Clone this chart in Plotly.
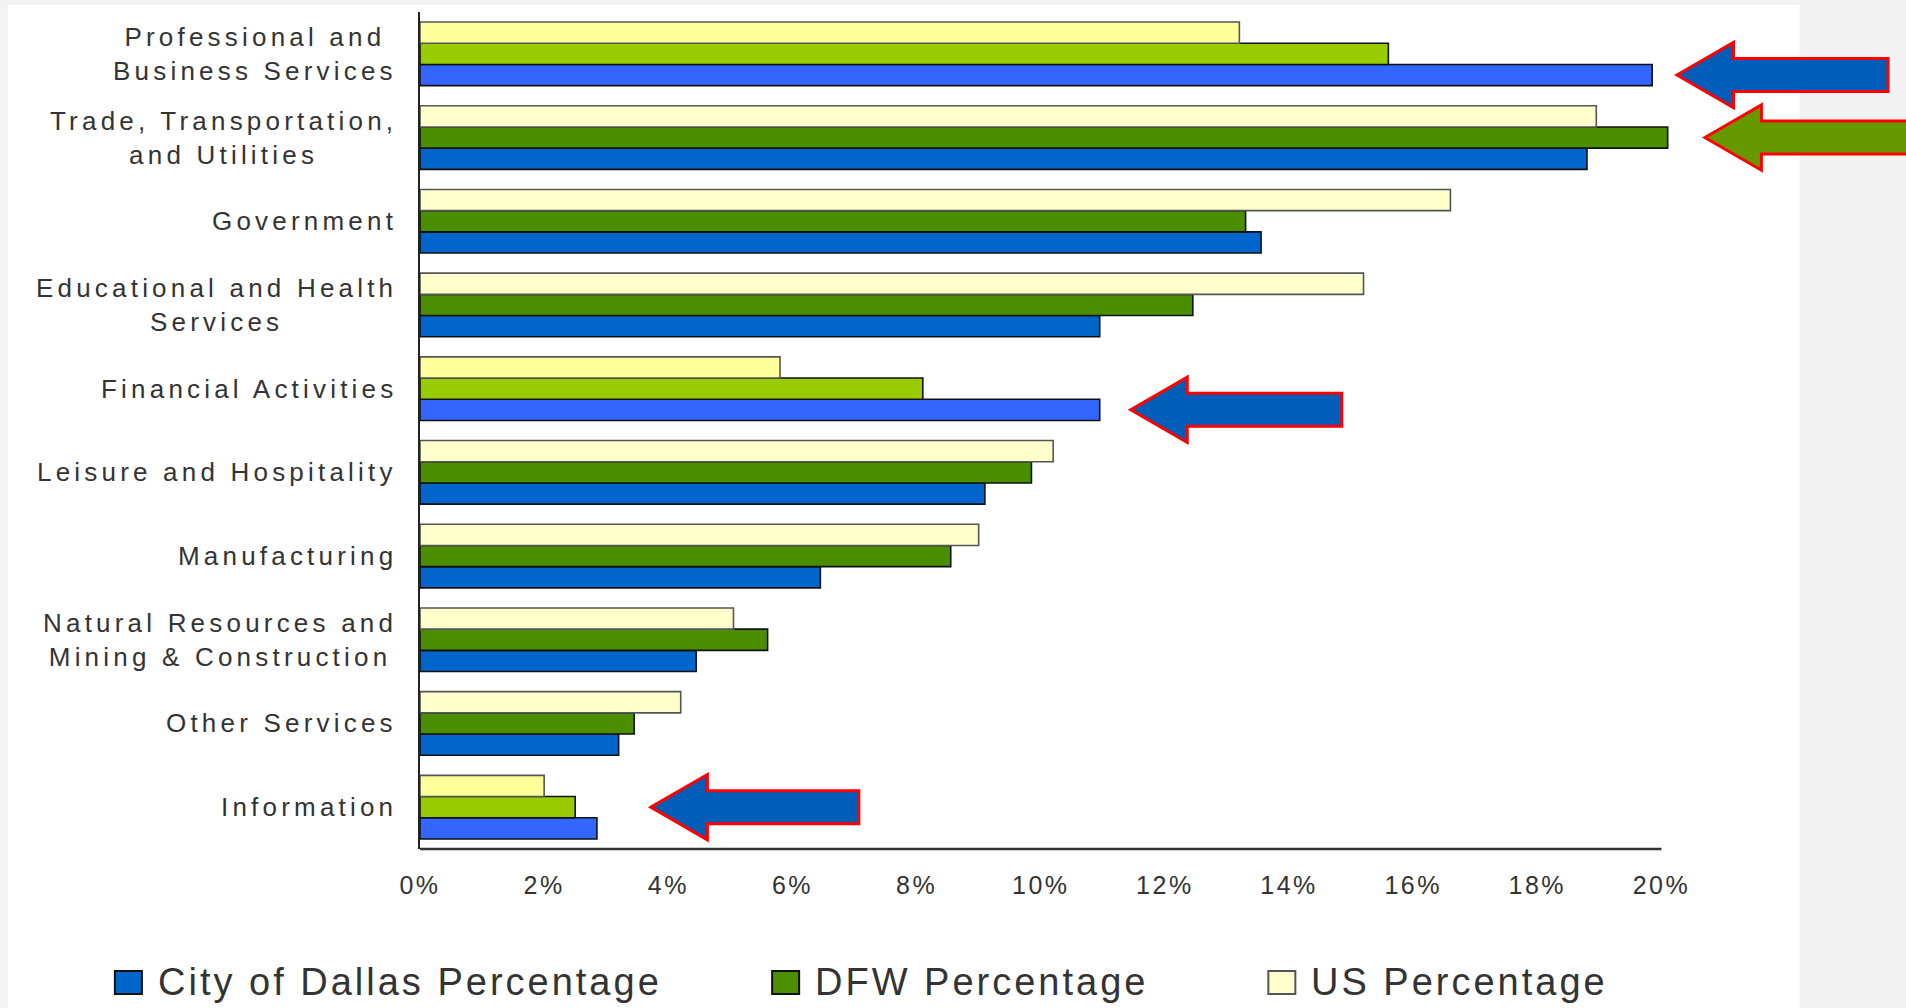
import plotly.graph_objects as go

# ---- data ----
categories = [
    "Professional and<br>Business Services",
    "Trade, Transportation,<br>and Utilities",
    "Government",
    "Educational and Health<br>Services",
    "Financial Activities",
    "Leisure and Hospitality",
    "Manufacturing",
    "Natural Resources and<br>Mining & Construction",
    "Other Services",
    "Information",
]
dallas_pct = [19.85, 18.8, 13.55, 10.95, 10.95, 9.1, 6.45, 4.45, 3.2, 2.85]
dfw_pct = [15.6, 20.1, 13.3, 12.45, 8.1, 9.85, 8.55, 5.6, 3.45, 2.5]
us_pct = [13.2, 18.95, 16.6, 15.2, 5.8, 10.2, 9.0, 5.05, 4.2, 2.0]
highlighted = [
    "Professional and<br>Business Services",
    "Financial Activities",
    "Information",
]
series_names = ["City of Dallas Percentage", "DFW Percentage", "US Percentage"]
x_ticks = [0, 2, 4, 6, 8, 10, 12, 14, 16, 18, 20]

# ---- page geometry ----
W, H = 1906, 1008
L, T, B = 420, 12, 159
X_MAX = 20.25
PX_PER_PCT = 62.05
PW = X_MAX * PX_PER_PCT
R = W - L - PW
PH = H - T - B
BARGAP = 0.24
N = len(categories)
FONT = "Liberation Sans, Arial, sans-serif"
TEXT = "#333333"


def px_x(x):
    return (x - L) / PW


def px_y(y):
    return (H - B - y) / PH


def spaced(s, sp):
    return '<span style="letter-spacing:%.1fpx">%s</span>' % (sp, s)


# Professional... on top
y_pos = [N - 1 - i for i in range(N)]


def colors(normal, hi):
    return [hi if c in highlighted else normal for c in categories]


fig = go.Figure()
fig.add_trace(go.Bar(
    x=dallas_pct, y=y_pos, orientation="h", name=series_names[0],
    marker=dict(color=colors("#0066cc", "#3366ff"),
                line=dict(color="#111111", width=1.6)),
    showlegend=False,
))
fig.add_trace(go.Bar(
    x=dfw_pct, y=y_pos, orientation="h", name=series_names[1],
    marker=dict(color=colors("#4b8f00", "#99cc00"),
                line=dict(color="#111111", width=1.6)),
    showlegend=False,
))
fig.add_trace(go.Bar(
    x=us_pct, y=y_pos, orientation="h", name=series_names[2],
    marker=dict(color=colors("#ffffcc", "#ffff99"),
                line=dict(color="#555555", width=1.6)),
    showlegend=False,
))

shapes = []
annotations = []

# white panel behind the chart
shapes.append(dict(type="rect", xref="paper", yref="paper",
                   x0=px_x(8), x1=px_x(1799), y0=px_y(1008), y1=px_y(5),
                   fillcolor="white", line=dict(width=0), layer="below"))

# bottom axis line, only up to 20%
shapes.append(dict(type="line", xref="paper", yref="paper",
                   x0=0, x1=x_ticks[-1] / X_MAX, y0=0, y1=0,
                   line=dict(color="#333333", width=2.5)))

# category labels (centred lines, right-aligned block)
for i, c in enumerate(categories):
    annotations.append(dict(
        text=spaced(c, 4.2), xref="paper", yref="paper",
        x=px_x(399), y=(y_pos[i] + 0.5) / N,
        xanchor="right", yanchor="middle", align="center", showarrow=False,
        font=dict(family=FONT, size=26, color=TEXT),
    ))

# block arrows: category index, bar offset, gap, length, fill
bar_w = (1 - BARGAP) / 3
arrows = [
    (0, -1, 0.4, 3.4, "#005eb8"),
    (1, 0, 0.6, 4.2, "#669900"),
    (4, -1, 0.5, 3.4, "#005eb8"),
    (9, 0, 0.87, 3.35, "#005eb8"),
]
HEAD_LEN, HEAD_H, SHAFT_H = 0.91, 0.39, 0.197
for idx, off, gap, length, fill in arrows:
    tip = max(dallas_pct[idx], dfw_pct[idx], us_pct[idx]) + gap
    yc = y_pos[idx] + off * bar_w
    xh, xe = tip + HEAD_LEN, tip + length
    pts = [(tip, yc), (xh, yc + HEAD_H), (xh, yc + SHAFT_H), (xe, yc + SHAFT_H),
           (xe, yc - SHAFT_H), (xh, yc - SHAFT_H), (xh, yc - HEAD_H)]
    path = "M" + " L".join("%.5f,%.5f" % (x / X_MAX, (y + 0.5) / N) for x, y in pts) + " Z"
    shapes.append(dict(type="path", xref="paper", yref="paper", path=path,
                       fillcolor=fill, line=dict(color="#ff0000", width=3),
                       layer="above"))

# legend drawn by hand (big square swatches)
legend_x = [115, 772, 1268]
legend_fill = ["#0066cc", "#4b8f00", "#ffffcc"]
legend_edge = ["#111111", "#111111", "#555555"]
for name, lx, fc, ec in zip(series_names, legend_x, legend_fill, legend_edge):
    shapes.append(dict(type="rect", xref="paper", yref="paper",
                       x0=px_x(lx), x1=px_x(lx + 27), y0=px_y(994), y1=px_y(971),
                       fillcolor=fc, line=dict(color=ec, width=2)))
    annotations.append(dict(
        text=spaced(name, 3), xref="paper", yref="paper",
        x=px_x(lx + 41), y=px_y(982), xanchor="left", yanchor="middle",
        showarrow=False, font=dict(family=FONT, size=38, color=TEXT),
    ))

fig.update_layout(
    width=W, height=H,
    margin=dict(l=L, r=R, t=T, b=B, pad=0),
    paper_bgcolor="#f2f2f2",
    plot_bgcolor="white",
    barmode="group", bargap=BARGAP, bargroupgap=0,
    showlegend=False,
    shapes=shapes,
    annotations=annotations,
    xaxis=dict(
        range=[0, X_MAX], tickvals=x_ticks,
        ticktext=[spaced("%d%%" % v, 2.5) for v in x_ticks],
        tickfont=dict(family=FONT, size=25, color=TEXT),
        showgrid=False, zeroline=False, showline=False, ticks="",
        ticklabelstandoff=19, fixedrange=True,
    ),
    yaxis=dict(
        range=[-0.5, N - 0.5], showticklabels=False, showgrid=False,
        zeroline=False, showline=True, linecolor="#222222", linewidth=2,
        ticks="", fixedrange=True,
    ),
)

# drop the browser's default 8px body margin so the figure sits at 0,0
fig.write_html("out.html", config={"displayModeBar": False},
               post_script="document.body.style.margin='0';")
